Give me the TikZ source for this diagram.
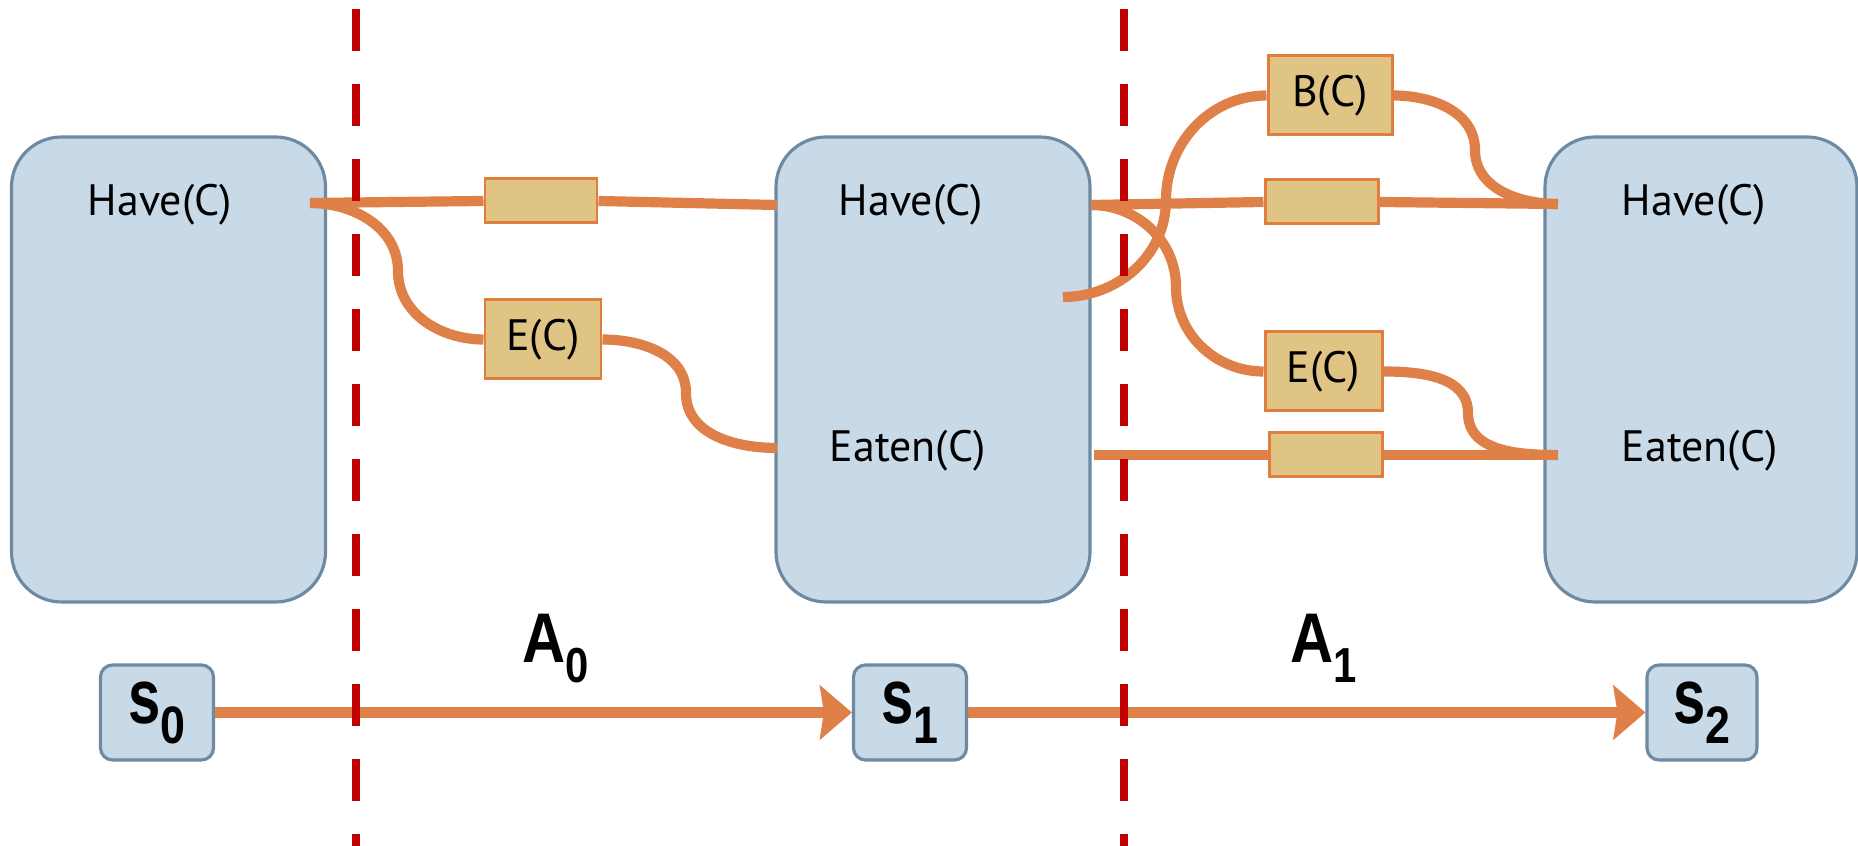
\documentclass[tikz,border=0pt]{standalone}
\usepackage{fontspec}
\setmainfont{PT Sans}
\newfontfamily\arialfont{Liberation Sans}
\usetikzlibrary{arrows.meta}
\definecolor{stblue}{HTML}{C8DAE8}
\definecolor{stedge}{HTML}{6E8AA3}
\definecolor{acttan}{HTML}{E0C483}
\definecolor{actedge}{HTML}{E07E3E}
\definecolor{wirecol}{HTML}{DF8049}
\definecolor{cutred}{HTML}{C00000}
\newcommand{\stname}[1]{\scalebox{0.75}[1]{s}\raisebox{-0.2cm}{\scalebox{0.85}[1]{\fontsize{15}{15}\selectfont #1}}}
\newcommand{\actname}[1]{\scalebox{0.85}[1]{A}\raisebox{-0.2cm}{\scalebox{0.85}[1]{\fontsize{14}{14}\selectfont #1}}}
\tikzset{
  statebox/.style={draw=stedge, fill=stblue, line width=0.9pt, rounded corners=0.5cm,
    minimum width=3.14cm, minimum height=4.65cm},
  smallstate/.style={draw=stedge, fill=stblue, line width=0.9pt, rounded corners=0.12cm,
    minimum width=1.13cm, minimum height=0.95cm, inner sep=0pt,
    font=\arialfont\bfseries\fontsize{22}{22}\selectfont},
  lbl/.style={inner sep=0pt, anchor=west, font=\fontsize{12.5}{12.5}\selectfont},
  actbox/.style={draw=actedge, fill=acttan, line width=0.85pt, inner sep=0pt,
    minimum width=1.14cm, font=\fontsize{12.5}{12.5}\selectfont},
  wire/.style={draw=wirecol, line width=2.9pt},
  cutline/.style={draw=cutred, line width=2pt, dash pattern=on 0.42cm off 0.33cm},
  timearrow/.style={draw=wirecol, line width=3.1pt,
    -{Stealth[length=0.32cm, width=0.54cm, inset=0.04cm]}}
}
\begin{document}
\begin{tikzpicture}
\useasboundingbox (0,0) rectangle (18.58,8.46);

\node[statebox] (st0) at (1.685,4.765) {};
\node[statebox] (st1) at (9.33,4.765) {};
\node[statebox, minimum width=3.12cm] (st2) at (17.01,4.765) {};

\node[lbl] (have0) at (0.87,6.41) {Have(C)};
\node[lbl] (have1) at (8.38,6.41) {Have(C)};
\node[lbl] (eaten1) at (8.29,3.95) {Eaten(C)};
\node[lbl] (have2) at (16.21,6.41) {Have(C)};
\node[lbl] (eaten2) at (16.21,3.95) {Eaten(C)};

\node[actbox, minimum width=1.12cm, minimum height=0.44cm] (keep0) at (5.41,6.45) {};
\node[actbox, minimum width=1.16cm, minimum height=0.79cm] (eat0) at (5.43,5.065) {E(C)};
\node[actbox, minimum width=1.24cm, minimum height=0.79cm] (buy1) at (13.30,7.505) {B(C)};
\node[actbox, minimum width=1.13cm, minimum height=0.44cm] (keep1) at (13.215,6.44) {};
\node[actbox, minimum width=1.17cm, minimum height=0.79cm] (eat1) at (13.235,4.745) {E(C)};
\node[actbox, minimum width=1.13cm, minimum height=0.44cm] (keepe1) at (13.255,3.91) {};

\coordinate (h0) at (3.10,6.43);
\coordinate (h1in) at (7.77,6.41);
\coordinate (e1in) at (7.77,3.98);
\coordinate (h1) at (10.91,6.41);
\coordinate (e1) at (10.94,3.91);
\coordinate (b1) at (10.63,5.49);
\coordinate (h2in) at (15.58,6.42);
\coordinate (e2in) at (15.58,3.91);

\draw[wire] (h0) -- (keep0.west);
\draw[wire] (keep0.east) -- (h1in);
\draw[wire] (h0) to[out=0,in=90] (3.98,5.75) to[out=-90,in=180] (eat0.west);
\draw[wire] (eat0.east) to[out=0,in=90] (6.86,4.53) to[out=-90,in=180] (e1in);

\draw[wire] (h1) -- (keep1.west);
\draw[wire] (keep1.east) -- (h2in);
\draw[wire] (e1) -- (keepe1.west);
\draw[wire] (keepe1.east) -- (e2in);
\draw[wire] (h1) to[out=0,in=90] (11.76,5.59) to[out=-90,in=180] (eat1.west);
\draw[wire] (eat1.east) to[out=0,in=90] (14.68,4.33) to[out=-90,in=180] (e2in);
\draw[wire] (b1) to[out=0,in=-90] (11.66,6.46) to[out=90,in=180] (buy1.west);
\draw[wire] (buy1.east) to[out=0,in=90] (14.75,6.96) to[out=-90,in=180] (h2in);

\node[smallstate] (s0) at (1.57,1.335) {\stname{0}};
\node[smallstate] (s1) at (9.10,1.335) {\stname{1}};
\node[smallstate, minimum width=1.10cm] (s2) at (17.02,1.335) {\stname{2}};
\draw[timearrow] (s0) -- (s1);
\draw[timearrow] (s1) -- (s2);

\node[anchor=base west, inner sep=0pt, font=\arialfont\bfseries\fontsize{20}{20}\selectfont]
  (a0) at (5.22,1.83) {\actname{0}};
\node[anchor=base west, inner sep=0pt, font=\arialfont\bfseries\fontsize{20}{20}\selectfont]
  (a1) at (12.90,1.83) {\actname{1}};

\draw[cutline] (3.56,8.37) -- (3.56,0);
\draw[cutline] (11.24,8.37) -- (11.24,0);
\end{tikzpicture}
\end{document}
